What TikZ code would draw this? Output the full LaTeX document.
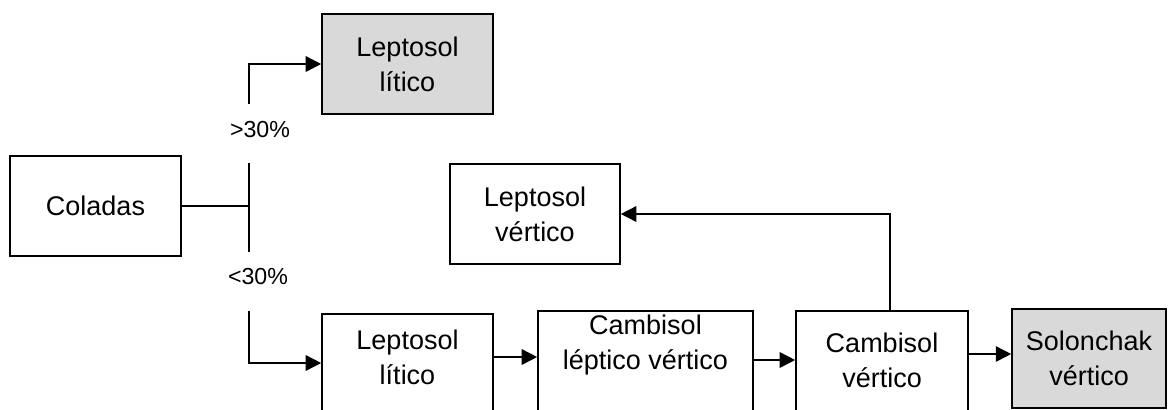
\documentclass[tikz,border=0pt]{standalone}
\usepackage{fontspec}
\setmainfont{Liberation Sans}
\usetikzlibrary{arrows.meta,positioning}
\definecolor{soilgray}{RGB}{217,217,217}

\begin{document}
\begin{tikzpicture}[x=0.025cm,y=-0.025cm,>={Triangle[length=11pt,width=11pt]},
  soil/.style={draw,line width=1.1pt,inner sep=0pt,align=center,font=\fontsize{19.2}{25}\selectfont},
  txt/.style={align=center,inner sep=0pt,font=\fontsize{19.2}{25}\selectfont},
  pct/.style={font=\fontsize{16.5}{20}\selectfont},
  link/.style={line width=1.1pt}]
\useasboundingbox (0,0) rectangle (1169,409);
% start and the split on slope
\node[soil,minimum width=4.275cm,minimum height=2.5cm] (col) at (95.5,206) {Coladas};
\node[soil,fill=soilgray,minimum width=4.275cm,minimum height=2.5cm] (lep1) at (407.5,64) {Leptosol\\lítico};
\coordinate (fork) at (249,206);
\coordinate (forkTop) at (249,163);
\coordinate (forkBot) at (249,252);
\draw[link] (col.east) -- (fork);
\draw[link] (forkTop) -- (forkBot);
\node[pct] (gt) at (260,130) {>30\%};
\node[pct] (lt) at (258,277) {<30\%};
\coordinate (upStart) at (249,104);
\coordinate (downStart) at (249,311);
\draw[link,->] (upStart) |- (lep1.west);
% lower chain, boxes run off the bottom edge
\node[soil,anchor=north,minimum width=4.275cm,minimum height=3.25cm] (lep2) at (407.5,313) {};
\node[txt] (lep2t) at (407.5,357) {Leptosol\\lítico};
\node[soil,anchor=north,minimum width=5.375cm,minimum height=3.25cm] (clv) at (645.5,310) {};
\node[txt] (clvt) at (645.5,345) {Cambisol\\léptico vértico};
\node[soil,anchor=north,minimum width=4.3cm,minimum height=3.25cm] (cv) at (882,310) {};
\node[txt] (cvt) at (882,360) {Cambisol\\vértico};
\node[soil,fill=soilgray,minimum width=3.85cm,minimum height=2.475cm] (sv) at (1089,358.5) {Solonchak\\vértico};
\node[soil,minimum width=4.25cm,minimum height=2.5cm] (lv) at (535,214) {Leptosol\\vértico};
\draw[link,->] (downStart) |- (lep2.west |- 0,363);
\draw[link,->] (lep2.east |- 0,357) -- (clv.west |- 0,357);
\draw[link,->] (clv.east |- 0,360) -- (cv.west |- 0,360);
\draw[link,->] (cv.east |- 0,354) -- (sv.west |- 0,354);
\draw[link,->] (cv.north -| 890,0) |- (lv.east);
\end{tikzpicture}
\end{document}
